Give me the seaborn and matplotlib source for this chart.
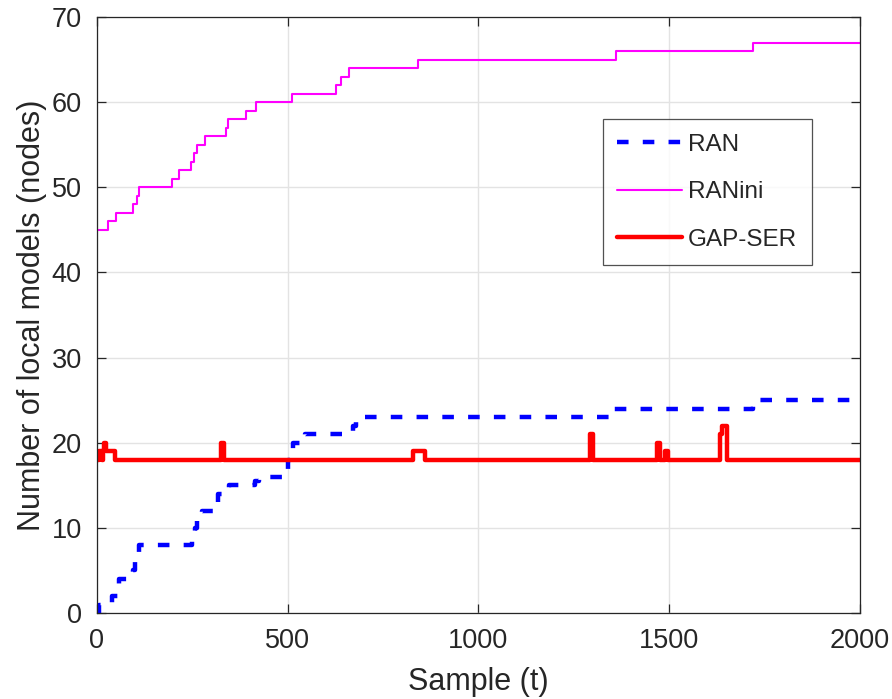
import numpy as np
import pandas as pd
import matplotlib
matplotlib.use("Agg")
import matplotlib.pyplot as plt
import seaborn as sns

# step change points (sample index, value after the step)
ran_x = [0, 5, 40, 58, 95, 100, 110, 250, 256, 262, 275, 318, 345, 415, 425, 500, 507, 515, 545, 672, 680, 1350, 1720, 2000]
ran_y = [0, 1, 2, 4, 5, 6, 8, 9, 10, 11, 12, 14, 15, 15.5, 16, 18, 19, 20, 21, 22, 23, 24, 25, 25]

ranini_x = [0, 30, 51, 95, 104, 110, 197, 216, 246, 254, 261, 283, 337, 344, 391, 418, 512, 626, 641, 662, 842, 1360, 1719, 2000]
ranini_y = [45, 46, 47, 48, 49, 50, 51, 52, 53, 54, 55, 56, 57, 58, 59, 60, 61, 62, 63, 64, 65, 66, 67, 67]

gap_x = [0, 5, 12, 16, 19, 25, 47, 326, 333, 829, 860, 1292, 1300, 1468, 1476, 1490, 1497, 1633, 1638, 1652, 2000]
gap_y = [18, 19, 18, 19, 20, 19, 18, 20, 18, 19, 18, 21, 18, 20, 18, 19, 18, 21, 22, 18, 18]

sns.set_style("white")
plt.rcParams['font.family'] = ['Liberation Sans', 'DejaVu Sans']

fig = plt.figure(figsize=(8.92, 6.99), dpi=100)
ax = fig.add_axes([0.1087, 0.123, 0.8553, 0.8527])

ran = pd.DataFrame({'x': ran_x, 'y': ran_y})
ranini = pd.DataFrame({'x': ranini_x, 'y': ranini_y})
gap = pd.DataFrame({'x': gap_x, 'y': gap_y})

sns.lineplot(data=ran, x='x', y='y', ax=ax, color='#0000ff', lw=3.2, estimator=None,
             drawstyle='steps-post', linestyle=(0, (2.6, 3.2)), dash_capstyle='butt', label='RAN')
sns.lineplot(data=ranini, x='x', y='y', ax=ax, color='#ff00ff', lw=1.5, estimator=None,
             drawstyle='steps-post', label='RANini')
sns.lineplot(data=gap, x='x', y='y', ax=ax, color='#ff0000', lw=3.2, estimator=None,
             drawstyle='steps-post', label='GAP-SER')

ax.set_xlim(0, 2000)
ax.set_ylim(0, 70)
ax.set_xticks([0, 500, 1000, 1500, 2000])
ax.set_yticks(np.arange(0, 71, 10))
ax.grid(True, color='#e3e3e3', lw=1.0)
ax.set_axisbelow(True)
ax.tick_params(direction='in', length=6.5, width=0.9, colors='#262626', labelsize=19.5,
               top=True, right=True, bottom=True, left=True, pad=11)
for s in ax.spines.values():
    s.set_color('#262626')
    s.set_linewidth(0.9)
ax.set_xlabel('Sample (t)', fontsize=22, color='#262626', labelpad=9)
ax.set_ylabel('Number of local models (nodes)', fontsize=22, color='#262626', labelpad=3)

leg = ax.legend(loc='upper left', bbox_to_anchor=(0.663, 0.829), fontsize=17.5, frameon=True,
                fancybox=False, handlelength=2.65, handletextpad=0.25, borderpad=0.6,
                labelspacing=1.05, borderaxespad=0)
leg.get_frame().set_edgecolor('#262626')
leg.get_frame().set_linewidth(0.9)

fig.savefig('out.png', dpi=100)
